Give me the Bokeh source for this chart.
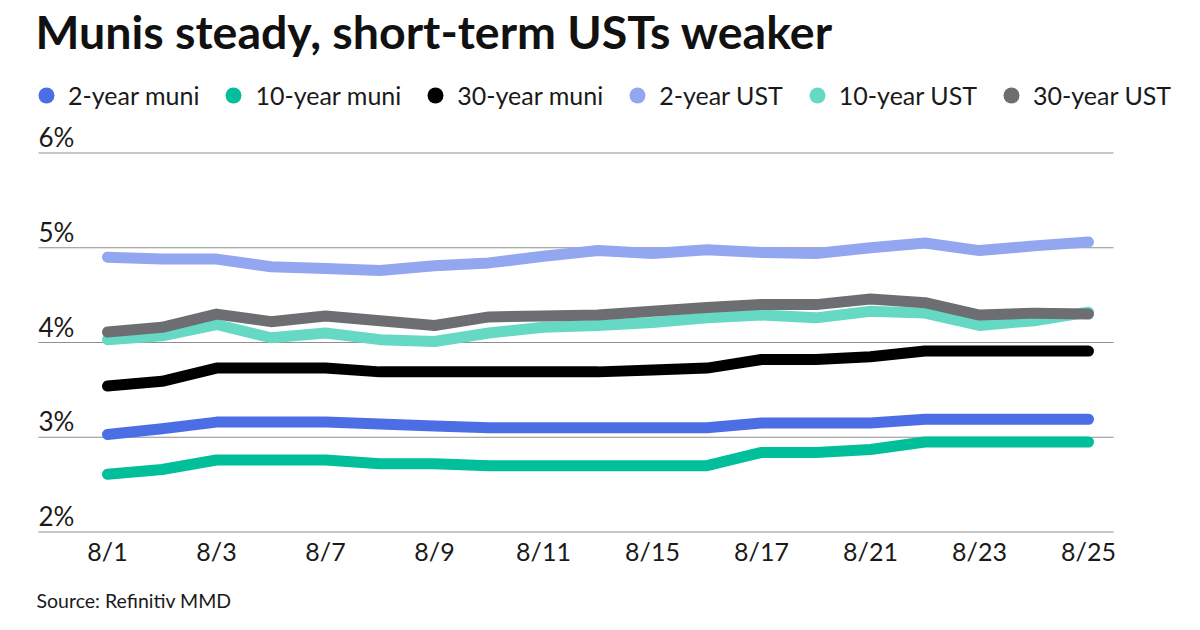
from bokeh.plotting import figure
from bokeh.models import (Range1d, FixedTicker, Legend, LegendItem, Label, Title)
from bokeh.core.properties import value
from bokeh.embed import file_html
from bokeh.resources import INLINE

# ---------------- data ----------------
dates = ["8/1", "8/2", "8/3", "8/4", "8/7", "8/8", "8/9", "8/10", "8/11", "8/14",
         "8/15", "8/16", "8/17", "8/18", "8/21", "8/22", "8/23", "8/24", "8/25"]
labeled_dates = ["8/1", "8/3", "8/7", "8/9", "8/11", "8/15", "8/17", "8/21", "8/23", "8/25"]

muni_2y = [3.03, 3.09, 3.16, 3.16, 3.16, 3.14, 3.12, 3.10, 3.10, 3.10,
           3.10, 3.10, 3.15, 3.15, 3.15, 3.19, 3.19, 3.19, 3.19]
muni_10y = [2.61, 2.66, 2.76, 2.76, 2.76, 2.72, 2.72, 2.70, 2.70, 2.70,
            2.70, 2.70, 2.84, 2.84, 2.87, 2.95, 2.95, 2.95, 2.95]
muni_30y = [3.54, 3.59, 3.73, 3.73, 3.73, 3.69, 3.69, 3.69, 3.69, 3.69,
            3.71, 3.73, 3.82, 3.82, 3.85, 3.91, 3.91, 3.91, 3.91]
ust_2y = [4.90, 4.88, 4.88, 4.80, 4.78, 4.76, 4.81, 4.84, 4.91, 4.97,
          4.94, 4.98, 4.95, 4.94, 5.00, 5.05, 4.97, 5.02, 5.06]
ust_10y = [4.03, 4.07, 4.19, 4.05, 4.10, 4.03, 4.01, 4.10, 4.16, 4.18,
           4.21, 4.26, 4.29, 4.26, 4.33, 4.31, 4.18, 4.23, 4.32]
ust_30y = [4.11, 4.16, 4.30, 4.22, 4.28, 4.23, 4.18, 4.27, 4.28, 4.29,
           4.33, 4.37, 4.40, 4.40, 4.46, 4.42, 4.29, 4.31, 4.30]

series_names = ["2-year muni", "10-year muni", "30-year muni", "2-year UST", "10-year UST", "30-year UST"]
series_values = [muni_2y, muni_10y, muni_30y, ust_2y, ust_10y, ust_30y]
series_colors = ["#4C6EE5", "#00BF9A", "#000000", "#93A6F0", "#66D9C4", "#6D6E72"]

y_ticks = [2, 3, 4, 5, 6]
y_tick_labels = ["2%", "3%", "4%", "5%", "6%"]

title_text = "Munis steady, short-term USTs weaker"
source_text = "Source: Refinitiv MMD"

# ---------------- layout (pixels) ----------------
W, H = 1200, 630
frame_bottom = 535          # frame spans the full width and the canvas top
px_per_pct = 94.75
px_per_day = 54.5
first_x_px = 107            # pixel of first data point
base_y_px = 531.5           # pixel of the 2% line
grid_left_px, grid_right_px = 38, 1113

x_idx = list(range(len(dates)))
x_start = -first_x_px / px_per_day
x_end = x_start + W / px_per_day
y_start = 2 - (frame_bottom - base_y_px) / px_per_pct
y_end = y_start + frame_bottom / px_per_pct

def px_to_x(px):
    return x_start + px / px_per_day

FONT = "Lato"
TXT = "#1a1a1a"

p = figure(width=W, height=H, output_backend="svg", toolbar_location=None,
           x_range=Range1d(x_start, x_end), y_range=Range1d(y_start, y_end),
           min_border_left=0, min_border_right=0, min_border_top=0,
           min_border_bottom=H - frame_bottom)
p.outline_line_color = None
p.background_fill_color = "white"
p.border_fill_color = "white"

p.xgrid.visible = False
p.ygrid.visible = False
p.yaxis.visible = False

# horizontal grid lines
n = len(y_ticks)
p.segment(x0=[px_to_x(grid_left_px)] * n, x1=[px_to_x(grid_right_px)] * n,
          y0=y_ticks, y1=y_ticks, line_color="#8f8f8f", line_width=1.2)

# y tick labels above grid lines
p.text(x=[px_to_x(grid_left_px)] * n, y=y_ticks, text=y_tick_labels,
       text_font=value(FONT), text_font_size="26px", text_color=TXT,
       text_baseline="alphabetic", text_align="left", y_offset=-16)

# x axis
p.xaxis.ticker = FixedTicker(ticks=[dates.index(d) for d in labeled_dates])
p.xaxis.major_label_overrides = {dates.index(d): d for d in labeled_dates}
p.xaxis.axis_line_color = None
p.xaxis.major_tick_line_color = None
p.xaxis.minor_tick_line_color = None
p.xaxis.major_label_text_font = FONT
p.xaxis.major_label_text_font_size = "25px"
p.xaxis.major_label_text_color = TXT
p.xaxis.major_label_standoff = -6

# lines + legend markers
legend_items = []
for name, vals, col in zip(series_names, series_values, series_colors):
    p.line(x_idx, vals, line_color=col, line_width=11, line_cap="round", line_join="round")
    dummy = p.scatter(x=[0], y=[-100], marker="circle", size=16, fill_color=col, line_color=None)
    legend_items.append(LegendItem(label=name, renderers=[dummy]))

legend = Legend(items=legend_items, orientation="horizontal", location=(26, 420),
                glyph_width=40, glyph_height=40, label_standoff=2, spacing=14,
                padding=0, margin=0, border_line_alpha=0, background_fill_alpha=0,
                label_text_font=FONT, label_text_font_size="25px", label_text_color=TXT)
p.add_layout(legend, "center")

# title
p.add_layout(Label(x=35, y=frame_bottom - 46.7 + 16, x_units="screen", y_units="screen",
                   text=title_text, text_font=FONT, text_font_size="46.5px", text_font_style="bold",
                   text_color="#111111", text_baseline="alphabetic"))

# source note
p.add_layout(Title(text=source_text, align="left", offset=36, standoff=36,
                   text_font=FONT, text_font_size="19.5px", text_font_style="normal",
                   text_color=TXT), "below")

open("out.html", "w").write(file_html(p, INLINE))
